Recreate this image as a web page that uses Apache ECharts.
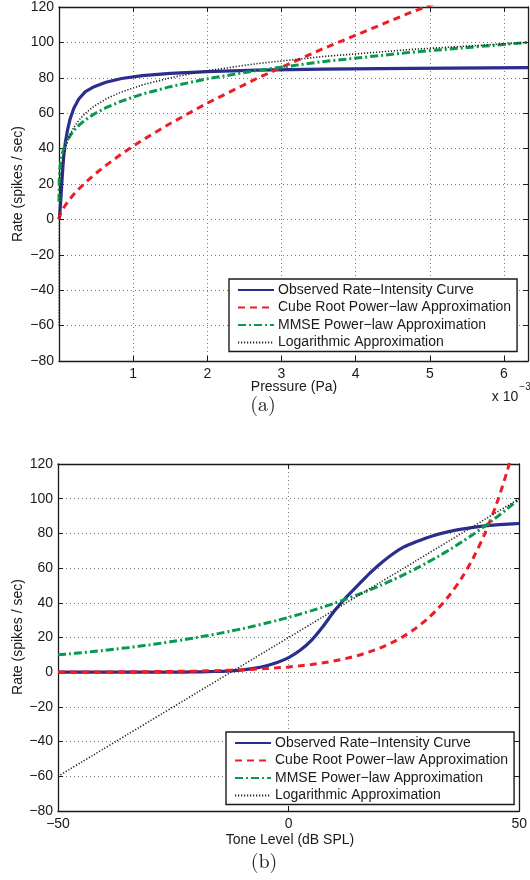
<!DOCTYPE html>
<html><head><meta charset="utf-8">
<script src="https://cdn.jsdelivr.net/npm/echarts@6/dist/echarts.min.js"></script>
<style>html,body{margin:0;padding:0;background:#fff}#c{width:530px;height:880px}</style>
</head><body><div id="c"></div>
<script>
// ---- data ----
const levelsDb = [-50,-47.5,-45,-42.5,-40,-37.5,-35,-32.5,-30,-27.5,-25,-22.5,-20,-17.5,-15,-12.5,-10,-7.5,-5,-2.5,0,2.5,5,7.5,10,12.5,15,17.5,20,22.5,25,27.5,30,32.5,35,37.5,40,42.5,45,47.5,50];
// same tone levels expressed as pressure, in units of 1e-3 Pa
const pressureMPa = [0.0000632,0.0000843,0.000112,0.00015,0.0002,0.000267,0.000356,0.000474,0.000632,0.00084,0.00112,0.0015,0.002,0.00267,0.00356,0.00474,0.00632,0.00843,0.01125,0.015,0.02,0.02667,0.03557,0.04743,0.06325,0.08434,0.11247,0.14998,0.2,0.2667,0.3557,0.4743,0.6325,0.8434,1.1247,1.4998,2.0,2.667,3.557,4.743,6.325];
const observed = [0,0,0,0,0,0,0,0,0,0,0,0.1,0.2,0.3,0.5,0.8,1.3,2.2,3.6,5.6,8.4,12.6,18.5,26.5,35.5,43.2,50,56.8,62.8,68,72.2,75.0,77.5,79.6,81.2,82.5,83.5,84.3,84.9,85.3,85.7];
const cubeRoot = [0.066,0.08,0.096,0.117,0.142,0.171,0.208,0.252,0.305,0.37,0.448,0.542,0.657,0.796,0.964,1.17,1.42,1.71,2.08,2.52,3.05,3.7,4.48,5.42,6.57,7.96,9.64,11.7,14.2,17.2,20.8,25.2,30.5,37.0,44.8,54.2,65.7,79.6,96.4,116.9,141.6];
const mmse = [10.0,10.59,11.22,11.89,12.59,13.33,14.13,14.96,15.85,16.79,17.78,18.84,19.95,21.13,22.39,23.71,25.12,26.61,28.18,29.85,31.62,33.5,35.48,37.58,39.81,42.17,44.67,47.32,50.12,53.09,56.23,59.57,63.1,66.83,70.79,74.99,79.43,84.14,89.13,94.41,100.0];
const logApprox = [-60,-56,-52,-48,-44,-40,-36,-32,-28,-24,-20,-16,-12,-8,-4,0,4,8,12,16,20,24,28,32,36,40,44,48,52,56,60,64,68,72,76,80,84,88,92,96,100];
const seriesNames = ['Observed Rate\u2212Intensity Curve','Cube Root Power\u2212law Approximation','MMSE Power\u2212law Approximation','Logarithmic Approximation'];
const rateMin = -80, rateMax = 120, rateStep = 20;
const pressureMax = 6.3246, pressureStep = 1;
const dbMin = -50, dbMax = 50, dbStep = 50;

// ---- styles ----
const FONT = '"Liberation Sans", Arial, sans-serif';
const INK = '#1a1a1a';
const styles = [
  {color:'#2b2e8c', width:3.2, type:'solid'},
  {color:'#ee1d25', width:3, type:[7,5]},
  {color:'#079a4c', width:3, type:[8,3,2,3]},
  {color:'#222222', width:1.6, type:[1.2,1.8]}
];
const valuesList = [observed, cubeRoot, mmse, logApprox];
const minus = v => String(v).replace('-', '\u2212');

function frameAxis(gridIndex, pos, min, max, interval, isX, withLabels, labelFmt) {
  return {
    gridIndex, type:'value', position:pos, min, max, interval,
    axisLine:{show:true, onZero:false, lineStyle:{color:INK, width:1.3}},
    axisTick:{show:true, inside:true, length:5, lineStyle:{color:INK, width:1}},
    axisLabel:{show:withLabels, margin:6, fontSize:14, fontFamily:FONT, color:INK, formatter:labelFmt},
    splitLine:{show:withLabels, lineStyle:{type:[1,3], color:'#7a7a7a', width:1}}
  };
}

const grids = [
  {left:59, top:7, width:469, height:354},
  {left:58, top:464, width:465, height:347}
];

const xAxes = [
  frameAxis(0,'bottom',0,pressureMax,pressureStep,true,true, v => (v>0 && Math.abs(v-Math.round(v))<1e-9) ? String(v) : ''),
  frameAxis(0,'top',0,pressureMax,pressureStep,true,false),
  frameAxis(1,'bottom',dbMin,dbMax,dbStep,true,true, minus),
  frameAxis(1,'top',dbMin,dbMax,dbStep,true,false)
];
xAxes[0].axisLabel.showMaxLabel = false;
const yAxes = [
  frameAxis(0,'left',rateMin,rateMax,rateStep,false,true, minus),
  frameAxis(0,'right',rateMin,rateMax,rateStep,false,false),
  frameAxis(1,'left',rateMin,rateMax,rateStep,false,true, minus),
  frameAxis(1,'right',rateMin,rateMax,rateStep,false,false)
];
yAxes[0].axisLabel.margin = 5; yAxes[2].axisLabel.margin = 5;

const series = [];
[0,1].forEach(g => {
  const xs = g === 0 ? pressureMPa : levelsDb;
  valuesList.forEach((vals, k) => {
    series.push({
      type:'line', name:seriesNames[k], xAxisIndex: g*2, yAxisIndex: g*2,
      data: xs.map((x,i) => [x, vals[i]]),
      symbol:'none', showSymbol:false, clip:true, silent:true,
      smooth: g === 1 ? 0.3 : false,
      lineStyle:{color:styles[k].color, width:styles[k].width, type:styles[k].type},
      itemStyle:{color:styles[k].color},
      z: 3 + k
    });
  });
});

function legendAt(left, top) {
  return {
    left, top, orient:'vertical', data:seriesNames, selectedMode:false,
    itemWidth:36, itemHeight:14, itemGap:3.5,
    padding:[4,6,2,8], backgroundColor:'#fff',
    borderColor:INK, borderWidth:1.4, borderRadius:0,
    itemStyle:{opacity:0, borderWidth:0},
    textStyle:{fontSize:14, fontFamily:FONT, color:INK, padding:[0,0,0,-1]}
  };
}

const text = (x, y, s, size, extra) => Object.assign({type:'text', x, y, z:100,
  style:{text:s, fontSize:size, fontFamily:FONT, fill:INK, align:'center', verticalAlign:'middle'}}, extra || {});

const graphic = [
  text(18, 184, 'Rate (spikes / sec)', 14, {rotation:Math.PI/2}),
  text(18, 637, 'Rate (spikes / sec)', 14, {rotation:Math.PI/2}),
  text(294, 387, 'Pressure (Pa)', 14),
  text(290, 840, 'Tone Level (dB SPL)', 14),
  text(505, 397, 'x 10', 14),
  text(525, 387, '\u22123', 10),
  {type:'text', x:263, y:405, style:{text:'(a)', fontSize:20, fontFamily:'"Latin Modern Roman","DejaVu Serif","Liberation Serif",serif', fill:INK, align:'center', verticalAlign:'middle'}},
  {type:'text', x:264, y:862, style:{text:'(b)', fontSize:20, fontFamily:'"Latin Modern Roman","DejaVu Serif","Liberation Serif",serif', fill:INK, align:'center', verticalAlign:'middle'}}
];

const chart = echarts.init(document.getElementById('c'), null, {renderer:'canvas'});
chart.setOption({
  animation:false, backgroundColor:'#fff',
  grid:grids, xAxis:xAxes, yAxis:yAxes, series,
  legend:[legendAt(229,279), legendAt(226,732)],
  graphic
});
</script></body></html>
